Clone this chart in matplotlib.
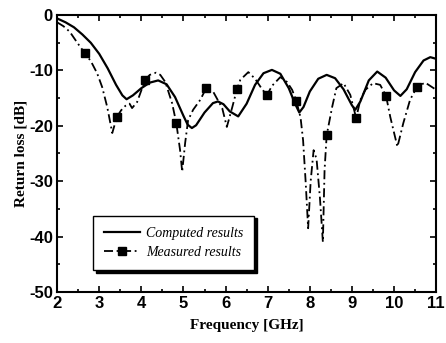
import matplotlib.pyplot as plt
from matplotlib.ticker import MultipleLocator

plt.rcParams['axes.unicode_minus'] = False

# computed return loss (solid)
comp_f = [2.0, 2.2, 2.4, 2.6, 2.8, 3.0, 3.2, 3.4, 3.55, 3.65, 3.8, 4.0, 4.2, 4.4,
          4.6, 4.8, 5.0, 5.1, 5.2, 5.3, 5.5, 5.7, 5.82, 5.95, 6.1, 6.3, 6.5, 6.7,
          6.9, 7.1, 7.3, 7.5, 7.65, 7.75, 7.85, 8.0, 8.2, 8.4, 8.6, 8.8, 9.0, 9.08,
          9.2, 9.4, 9.6, 9.8, 10.0, 10.15, 10.3, 10.5, 10.7, 10.86, 11.0]
comp_db = [-0.6, -1.3, -2.2, -3.5, -5.0, -7.0, -9.6, -12.6, -14.5, -15.2, -14.5,
           -13.2, -12.2, -11.8, -12.5, -14.8, -18.2, -19.8, -20.4, -19.9, -17.6,
           -15.9, -15.6, -16.1, -17.4, -18.3, -16.0, -12.6, -10.5, -9.9, -10.6,
           -13.2, -16.0, -17.6, -16.6, -13.8, -11.5, -10.8, -11.4, -13.4, -16.3,
           -17.1, -15.6, -11.8, -10.2, -11.3, -13.6, -14.6, -13.4, -10.3, -8.2,
           -7.6, -7.9]

# measured return loss (dash-dot)
meas_f = [2.0, 2.15, 2.3, 2.48, 2.66, 2.8, 2.95, 3.07, 3.19, 3.31, 3.42, 3.52,
          3.62, 3.72, 3.78, 3.9, 4.0, 4.09, 4.2, 4.35, 4.45, 4.57, 4.73, 4.83,
          4.92, 4.97, 5.04, 5.11, 5.23, 5.4, 5.54, 5.71, 5.92, 6.03, 6.16, 6.27,
          6.35, 6.54, 6.7, 6.85, 6.98, 7.1, 7.3, 7.46, 7.58, 7.68, 7.78, 7.84,
          7.9, 7.96, 8.02, 8.09, 8.16, 8.24, 8.31, 8.35, 8.4, 8.53, 8.63, 8.8,
          8.96, 9.1, 9.2, 9.32, 9.5, 9.67, 9.81, 9.91, 10.08, 10.22, 10.38,
          10.55, 10.74, 10.9, 11.0]
meas_db = [-1.3, -2.0, -3.0, -5.0, -6.9, -8.3, -10.5, -13.0, -16.6, -21.3, -18.4,
           -17.2, -16.4, -16.0, -16.8, -15.7, -13.6, -11.7, -10.8, -10.4, -10.8,
           -12.1, -15.9, -19.5, -24.4, -28.3, -23.1, -19.0, -17.1, -15.3, -13.2,
           -13.9, -16.8, -20.2, -16.6, -13.4, -11.7, -10.3, -11.5, -13.2, -14.5,
           -12.8, -11.2, -12.1, -13.5, -15.5, -18.5, -22.6, -30.0, -38.5, -30.0,
           -24.4, -26.0, -33.0, -41.0, -28.0, -21.7, -16.6, -13.2, -12.3, -14.4,
           -18.6, -15.3, -13.5, -12.3, -12.6, -14.6, -18.4, -23.8, -19.5, -15.3,
           -12.9, -12.2, -13.0, -13.5]

# frequencies where measured points carry a square marker
mark_f = [2.66, 3.42, 4.09, 4.83, 5.54, 6.27, 6.98, 7.68, 8.4, 9.1, 9.81, 10.55]

xticks = [2, 3, 4, 5, 6, 7, 8, 9, 10, 11]
yticks = [0, -10, -20, -30, -40, -50]

fig = plt.figure(figsize=(4.46, 3.43), dpi=100)
ax = fig.add_axes([0.128, 0.149, 0.85, 0.807])

ax.plot(comp_f, comp_db, color='black', linewidth=1.6, label='Computed results')
idx = [meas_f.index(f) for f in mark_f]
ax.plot(meas_f, meas_db, color='black', linewidth=1.3, dashes=(5, 2, 1, 2),
        marker='s', markersize=6, markevery=idx, label='Measured results')

ax.set_xlim(2, 11)
ax.set_ylim(-50, 0)
ax.set_xticks(xticks)
ax.set_yticks(yticks)
ax.xaxis.set_minor_locator(MultipleLocator(0.5))
ax.yaxis.set_minor_locator(MultipleLocator(5))
ax.tick_params(which='both', direction='in', top=True, right=True, width=1.2)
ax.tick_params(which='major', length=4, pad=3)
ax.tick_params(which='minor', length=2)
for lab in ax.get_xticklabels() + ax.get_yticklabels():
    lab.set_fontfamily('Liberation Sans')
    lab.set_fontweight('bold')
    lab.set_fontsize(12)
for sp in ax.spines.values():
    sp.set_linewidth(1.5)

ax.set_xlabel('Frequency [GHz]', fontfamily='Liberation Serif', fontweight='bold',
              fontsize=11, labelpad=6)
ax.set_ylabel('Return loss [dB]', fontfamily='Liberation Serif', fontweight='bold',
              fontsize=11, labelpad=1)

leg = ax.legend(loc='lower left', bbox_to_anchor=(0.095, 0.079), borderaxespad=0,
                prop={'family': 'Liberation Serif', 'style': 'italic', 'size': 10},
                handlelength=2.6, handletextpad=0.4, borderpad=0.8,
                labelspacing=0.45, fancybox=False, edgecolor='black',
                shadow={'color': 'black', 'alpha': 1}, framealpha=1)
leg.get_frame().set_linewidth(1.0)

plt.savefig('out.png', dpi=100)
